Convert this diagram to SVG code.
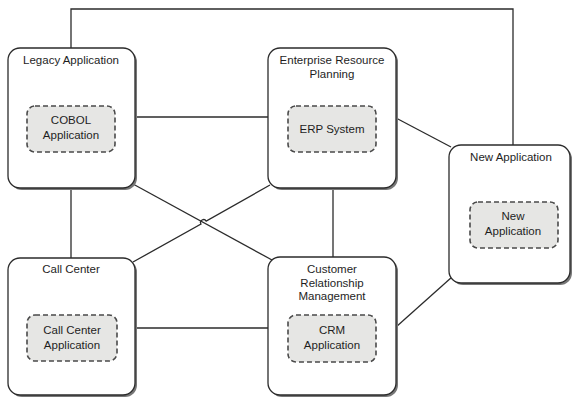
<svg xmlns="http://www.w3.org/2000/svg" width="575" height="398" viewBox="0 0 575 398">
<defs>
<style>
.shadow{fill:#777777;stroke:none;}
.box{fill:#ffffff;stroke:#2b2b2b;stroke-width:1.3;}
.inner{fill:#e6e6e4;stroke:#4a4a4a;stroke-width:1.6;stroke-dasharray:5 3;}
.conn{fill:none;stroke:#2b2b2b;stroke-width:1.3;}
text{font-family:"Liberation Sans",Arial,sans-serif;font-size:11.5px;fill:#1e1e1e;text-anchor:middle;}
</style>
</defs>
<rect x="0" y="0" width="575" height="398" fill="#ffffff"/>
<g id="connectors">
<polyline class="conn" points="71,48 71,9 513,9 513,145"/>
<line class="conn" x1="135" y1="117" x2="268" y2="117"/>
<line class="conn" x1="71" y1="188" x2="71" y2="258"/>
<line class="conn" x1="396" y1="118" x2="451" y2="147"/>
<line class="conn" x1="333" y1="188" x2="333" y2="257"/>
<line class="conn" x1="133" y1="184" x2="272" y2="260"/>
<path class="conn" d="M133,262 L201,224.1 A3,3 0 0 1 206.2,221.1 L270,185"/>
<line class="conn" x1="135" y1="328" x2="268" y2="328"/>
<line class="conn" x1="396" y1="327" x2="452" y2="277"/>
</g>
<g id="legacy">
<rect class="shadow" x="10" y="50" width="127" height="140" rx="12"/>
<rect class="box" x="8" y="48" width="127" height="140" rx="12"/>
<rect class="inner" x="27" y="106" width="88" height="46" rx="8"/>
<text x="71" y="64">Legacy Application</text>
<text x="71" y="124">COBOL</text>
<text x="71" y="139">Application</text>
</g>
<g id="erp">
<rect class="shadow" x="270" y="50" width="128" height="140" rx="12"/>
<rect class="box" x="268" y="48" width="128" height="140" rx="12"/>
<rect class="inner" x="288" y="106" width="88" height="46" rx="8"/>
<text x="332" y="64">Enterprise Resource</text>
<text x="332" y="78">Planning</text>
<text x="332" y="133">ERP System</text>
</g>
<g id="newapp">
<rect class="shadow" x="451" y="147" width="121" height="138" rx="12"/>
<rect class="box" x="449" y="145" width="121" height="138" rx="12"/>
<rect class="inner" x="470" y="202" width="88" height="46" rx="8"/>
<text x="511" y="161">New Application</text>
<text x="513" y="220">New</text>
<text x="513" y="235">Application</text>
</g>
<g id="callcenter">
<rect class="shadow" x="10" y="260" width="127" height="137" rx="12"/>
<rect class="box" x="8" y="258" width="127" height="137" rx="12"/>
<rect class="inner" x="27" y="315" width="90" height="46" rx="8"/>
<text x="71" y="273">Call Center</text>
<text x="72" y="334">Call Center</text>
<text x="72" y="349">Application</text>
</g>
<g id="crm">
<rect class="shadow" x="270" y="259" width="128" height="138" rx="12"/>
<rect class="box" x="268" y="257" width="128" height="138" rx="12"/>
<rect class="inner" x="288" y="315" width="88" height="47" rx="8"/>
<text x="332" y="273">Customer</text>
<text x="332" y="287">Relationship</text>
<text x="332" y="300">Management</text>
<text x="332" y="334">CRM</text>
<text x="332" y="349">Application</text>
</g>
</svg>
